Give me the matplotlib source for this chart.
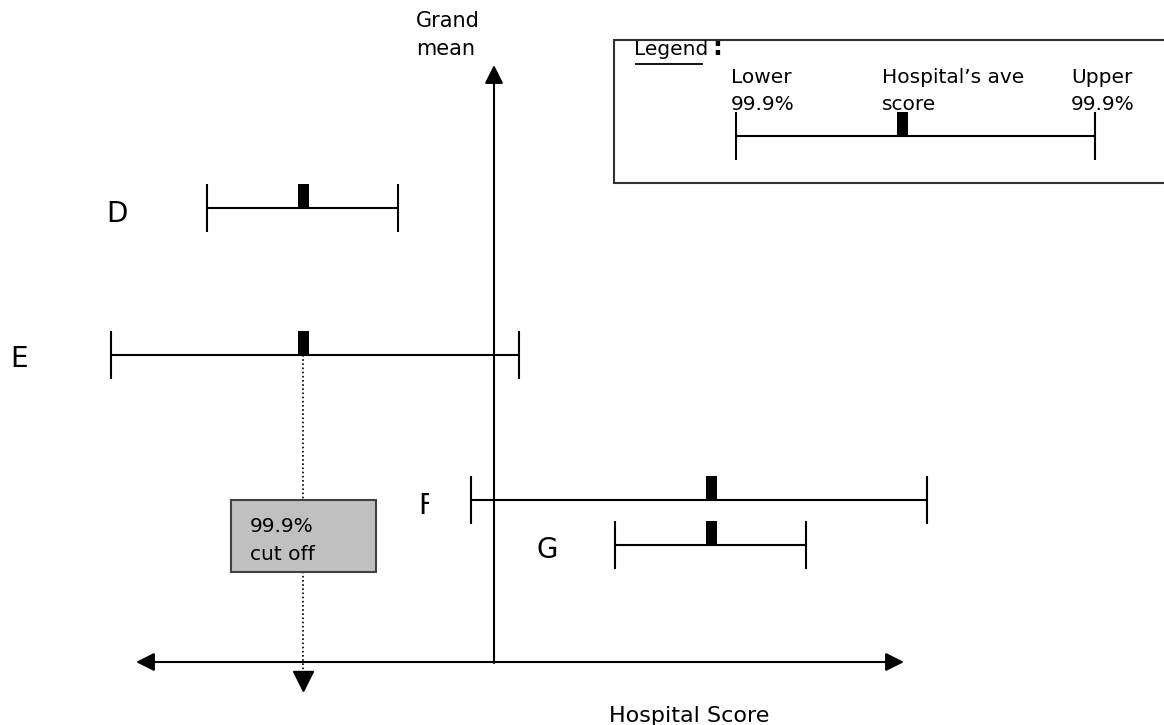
import matplotlib.pyplot as plt
from matplotlib.patches import Rectangle

# --- Data (horizontal positions on the score scale, rows top to bottom) ---
hospitals = ["D", "E", "F", "G"]
lower = [207, 111, 471, 615]
mean = [303, 303, 711, 711]
upper = [398, 519, 927, 806]
row_y = [208, 355, 500, 545]
label_x = [106, 10, 418, 537]
label_base = [222, 367, 514, 558]

grand_mean = 494
cutoff = 303

FS = 14.5
W, H = 1164, 725

fig = plt.figure(figsize=(W / 100, H / 100), dpi=100)
ax = fig.add_axes([0, 0, 1, 1])
ax.set_xlim(0, W)
ax.set_ylim(H, 0)
ax.axis("off")

# --- axes arrows ---
ax.annotate("", xy=(grand_mean, 65), xytext=(grand_mean, 663),
            arrowprops=dict(arrowstyle="-|>", color="black", lw=1.5,
                            mutation_scale=28, shrinkA=0, shrinkB=0))
ax.annotate("", xy=(136, 662), xytext=(904, 662),
            arrowprops=dict(arrowstyle="<|-|>", color="black", lw=1.5,
                            mutation_scale=28, shrinkA=0, shrinkB=0))
ax.text(416, 27, "Grand", ha="left", va="baseline", fontsize=15)
ax.text(416, 55, "mean", ha="left", va="baseline", fontsize=15)
ax.text(609, 722, "Hospital Score", ha="left", va="baseline", fontsize=16)

# --- hospitals ---
for name, lo, m, up, y, lx, lb in zip(hospitals, lower, mean, upper,
                                      row_y, label_x, label_base):
    ax.hlines(y, lo, up, color="black", lw=1.5)
    ax.vlines([lo, up], y - 24, y + 24, color="black", lw=1.5)
    ax.bar(m, 24, bottom=y - 24, width=11, color="black")
    ax.text(lx, lb, name, ha="left", va="baseline", fontsize=20)

# the F label is partly hidden in the original
ax.add_patch(Rectangle((429, 486), 30, 34, facecolor="white",
                       edgecolor="none", zorder=5))

# --- cut off ---
ax.vlines(cutoff, row_y[1], 671, color="black", lw=1.2, linestyles=(0, (1, 1.5)))
ax.plot(cutoff, 681, marker="v", markersize=15, color="black", linestyle="none")
ax.add_patch(Rectangle((231, 500), 145, 72, facecolor="#c0c0c0",
                       edgecolor="#404040", lw=1.5, zorder=3))
ax.text(250, 532, "99.9%", ha="left", va="baseline", fontsize=FS, zorder=4)
ax.text(250, 560, "cut off", ha="left", va="baseline", fontsize=FS, zorder=4)

# --- legend box ---
ax.add_patch(Rectangle((614, 40), 570, 143, facecolor="white",
                       edgecolor="#303030", lw=1.5))
ax.text(634, 55, "Legend", ha="left", va="baseline", fontsize=14.5)
ax.text(712, 55, ":", ha="left", va="baseline", fontsize=18, fontweight="bold")
ax.hlines(64, 635, 703, color="black", lw=1.3)
ax.text(731, 83, "Lower", ha="left", va="baseline", fontsize=FS)
ax.text(731, 110, "99.9%", ha="left", va="baseline", fontsize=FS)
ax.text(882, 83, "Hospital\u2019s ave", ha="left", va="baseline", fontsize=FS)
ax.text(882, 110, "score", ha="left", va="baseline", fontsize=FS)
ax.text(1071, 83, "Upper", ha="left", va="baseline", fontsize=FS)
ax.text(1071, 110, "99.9%", ha="left", va="baseline", fontsize=FS)
ax.hlines(136, 736, 1095, color="black", lw=1.5)
ax.vlines([736, 1095], 112, 160, color="black", lw=1.5)
ax.bar(902, 24, bottom=112, width=11, color="black")

fig.savefig("out.png", dpi=100)
